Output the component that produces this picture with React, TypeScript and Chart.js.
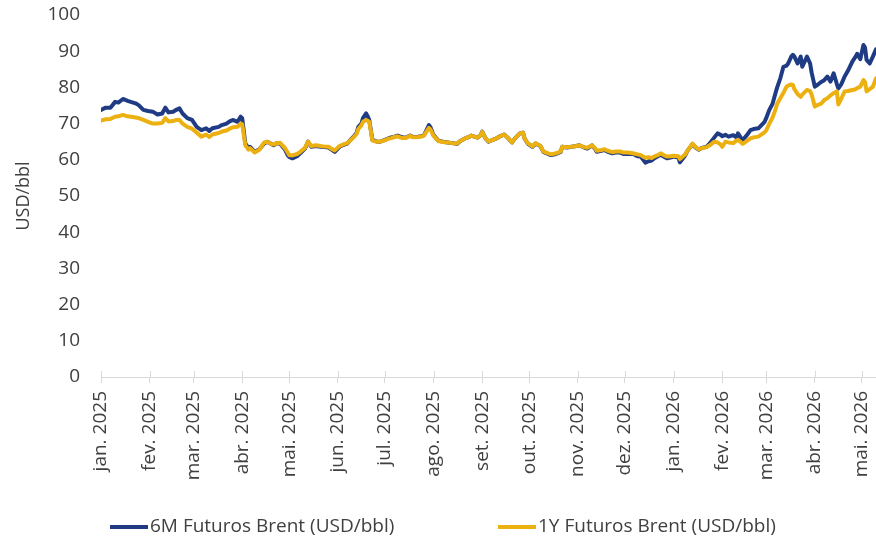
import React, { useEffect, useRef } from "react";
import { Chart, registerables } from "chart.js";

Chart.register(...registerables);

const monthLabels = [
  "jan. 2025", "fev. 2025", "mar. 2025", "abr. 2025", "mai. 2025", "jun. 2025",
  "jul. 2025", "ago. 2025", "set. 2025", "out. 2025", "nov. 2025", "dez. 2025",
  "jan. 2026", "fev. 2026", "mar. 2026", "abr. 2026", "mai. 2026",
];

const seriesNames = ["6M Futuros Brent (USD/bbl)", "1Y Futuros Brent (USD/bbl)"];

// days since 1 Jan 2025
const dayOffsets = [
  0, 3, 6, 9, 11, 14, 17, 19, 22, 24, 27, 30, 33, 36, 39, 41, 43, 46, 48, 50,
  52, 55, 58, 61, 64, 67, 69, 71, 75, 77, 80, 82, 84, 87, 89, 90, 92, 94, 95, 98,
  101, 104, 106, 108, 110, 112, 114, 117, 119, 120, 122, 125, 127, 130, 132, 134, 137, 140, 142, 145,
  147, 149, 152, 155, 157, 159, 161, 163, 164, 166, 167, 169, 170, 171, 173, 176, 178, 181, 183, 185,
  187, 189, 192, 194, 197, 199, 202, 205, 206, 209, 210, 212, 215, 218, 221, 224, 227, 229, 232, 235,
  236, 240, 242, 243, 245, 247, 249, 251, 254, 257, 259, 262, 264, 267, 269, 270, 272, 275, 277, 280,
  282, 285, 287, 290, 293, 294, 297, 300, 303, 305, 308, 310, 313, 315, 316, 319, 321, 323, 326, 328,
  331, 333, 336, 339, 342, 344, 346, 347, 349, 351, 353, 355, 357, 359, 361, 363, 365, 368, 369, 372,
  374, 377, 379, 381, 383, 386, 388, 391, 393, 395, 396, 398, 400, 403, 405, 406, 408, 409, 412, 414,
  416, 419, 421, 423, 424, 426, 428, 430, 431, 433, 435, 437, 438, 440, 441, 442, 444, 446, 447, 450,
  452, 453, 455, 457, 459, 461, 463, 465, 467, 469, 470, 472, 474, 476, 479, 481, 482, 484, 486, 487,
  488, 490, 492, 494,
];

const brent6M = [
  73.8, 74.4, 74.4, 76.0, 75.8, 76.8, 76.3, 76.0, 75.6, 75.1, 73.8, 73.5, 73.3, 72.5, 72.8, 74.4, 73.1, 73.3, 73.8, 74.2,
  72.8, 71.5, 71.0, 69.1, 68.2, 68.7, 68.0, 68.7, 69.1, 69.6, 70.0, 70.6, 71.0, 70.5, 71.9, 71.5, 64.5, 63.2, 63.6, 62.2,
  62.9, 64.5, 65.0, 64.5, 64.0, 64.6, 64.5, 63.0, 61.3, 60.8, 60.4, 61.0, 61.8, 63.1, 65.0, 63.6, 63.8, 63.6, 63.5, 63.4,
  62.8, 62.2, 63.6, 64.2, 64.5, 65.5, 66.4, 67.5, 69.1, 70.0, 71.5, 72.8, 72.0, 71.0, 65.5, 65.0, 65.0, 65.5, 65.9, 66.2,
  66.4, 66.7, 66.2, 66.1, 66.7, 66.3, 66.4, 66.6, 66.9, 69.6, 69.0, 66.8, 65.3, 65.0, 64.8, 64.6, 64.4, 65.2, 65.9, 66.4,
  66.7, 66.1, 66.8, 67.8, 66.0, 65.0, 65.4, 65.7, 66.4, 67.0, 66.2, 64.8, 66.0, 67.3, 67.5, 65.9, 64.5, 63.6, 64.5, 63.8,
  62.2, 61.6, 61.3, 61.6, 62.2, 63.6, 63.4, 63.6, 63.8, 64.0, 63.4, 63.1, 64.0, 63.0, 62.2, 62.5, 62.7, 62.2, 61.8, 62.0,
  62.0, 61.6, 61.6, 61.6, 61.0, 60.9, 59.8, 59.2, 59.6, 59.8, 60.5, 61.0, 61.4, 60.8, 60.4, 60.6, 60.9, 60.6, 59.3, 61.0,
  62.6, 64.3, 63.4, 62.8, 63.3, 63.6, 64.5, 66.2, 67.3, 66.9, 66.5, 66.9, 66.4, 66.8, 66.2, 67.3, 66.0, 65.4, 67.0, 68.2,
  68.5, 68.7, 69.6, 70.5, 71.5, 73.8, 75.4, 78.5, 80.0, 82.5, 85.7, 86.0, 86.6, 88.5, 89.0, 88.5, 86.6, 88.5, 85.7, 88.5,
  86.6, 84.0, 80.2, 80.8, 81.5, 82.0, 83.0, 81.6, 83.9, 81.0, 79.7, 81.0, 83.0, 84.5, 87.2, 88.5, 89.3, 87.8, 91.7, 91.0,
  87.6, 86.6, 88.5, 90.5,
];

const brent1Y = [
  70.8, 71.2, 71.3, 71.9, 72.0, 72.4, 72.0, 71.9, 71.7, 71.5, 71.0, 70.5, 70.0, 70.0, 70.2, 71.5, 70.6, 70.7, 71.0, 71.0,
  70.0, 69.1, 68.6, 67.5, 66.4, 67.0, 66.3, 67.0, 67.4, 67.8, 68.1, 68.6, 69.0, 69.1, 70.0, 69.8, 64.0, 62.8, 63.2, 62.0,
  62.8, 64.8, 65.0, 64.5, 64.2, 64.6, 64.7, 63.4, 62.0, 61.3, 61.2, 61.6, 62.2, 63.3, 65.0, 63.8, 64.0, 63.8, 63.7, 63.6,
  63.0, 62.6, 63.8, 64.3, 64.6, 65.4, 66.2, 67.2, 68.5, 69.5, 70.5, 71.0, 70.8, 70.5, 65.3, 65.0, 65.0, 65.4, 65.8, 66.0,
  66.3, 66.5, 66.0, 66.0, 66.6, 66.2, 66.3, 66.5, 66.8, 68.8, 68.4, 66.6, 65.2, 64.9, 64.8, 64.6, 64.5, 65.2, 65.9, 66.4,
  66.7, 66.1, 66.8, 67.7, 66.0, 65.1, 65.4, 65.7, 66.4, 67.0, 66.2, 64.8, 66.0, 67.3, 67.5, 65.9, 64.6, 63.7, 64.6, 63.9,
  62.3, 61.8, 61.5, 61.8, 62.3, 63.6, 63.5, 63.6, 63.8, 64.0, 63.5, 63.3, 64.0, 63.2, 62.5, 62.7, 62.9, 62.5, 62.1, 62.3,
  62.3, 62.0, 62.0, 61.8, 61.5, 61.3, 60.8, 60.6, 60.7, 60.5, 61.0, 61.3, 61.8, 61.2, 60.9, 61.0, 61.1, 61.0, 60.2, 61.3,
  62.6, 64.5, 63.5, 62.9, 63.2, 63.5, 64.0, 65.0, 64.8, 64.2, 63.6, 65.0, 64.8, 64.6, 65.3, 65.5, 64.8, 64.4, 65.3, 65.9,
  66.2, 66.4, 67.0, 67.6, 68.1, 70.0, 71.6, 74.0, 75.5, 77.0, 78.5, 80.2, 80.5, 80.8, 80.7, 79.5, 78.2, 77.4, 78.0, 79.3,
  79.0, 78.0, 74.7, 75.2, 75.5, 76.5, 77.0, 77.8, 78.4, 78.9, 75.3, 77.0, 78.9, 79.0, 79.3, 79.5, 79.8, 80.2, 82.0, 81.5,
  78.9, 79.5, 80.2, 82.5,
];

const Y_MIN = 0;
const Y_MAX = 100;
const Y_STEP = 10;
const X_MAX_DAY = 494;

const BLUE = "#1F3B84";
const YELLOW = "#ECB111";
const TEXT = "#404040";
const AXIS = "#D9D9D9";
const FONT = "'Open Sans', sans-serif";

const DAY_MS = 86400000;
const BASE = Date.UTC(2025, 0, 1);
const monthOffsets = monthLabels.map((_, i) =>
  Math.round((Date.UTC(2025, i, 1) - BASE) / DAY_MS)
);

const upTicksPlugin = {
  id: "upTicks",
  afterDatasetsDraw(chart: any) {
    const { ctx, chartArea, scales } = chart;
    const xs = scales.x;
    ctx.save();
    ctx.strokeStyle = AXIS;
    ctx.lineWidth = 1;
    ctx.beginPath();
    monthOffsets.forEach((d) => {
      const px = Math.round(xs.getPixelForValue(d)) + 0.5;
      ctx.moveTo(px, chartArea.bottom - 6);
      ctx.lineTo(px, chartArea.bottom);
    });
    ctx.stroke();
    ctx.restore();
  },
};

const legendPlugin = {
  id: "customLegend",
  afterDraw(chart: any) {
    const { ctx } = chart;
    const items = [
      { x: 110, color: BLUE, text: seriesNames[0] },
      { x: 498, color: YELLOW, text: seriesNames[1] },
    ];
    const y = 527;
    ctx.save();
    items.forEach((it) => {
      ctx.strokeStyle = it.color;
      ctx.lineWidth = 4;
      ctx.beginPath();
      ctx.moveTo(it.x, y);
      ctx.lineTo(it.x + 38, y);
      ctx.stroke();
      ctx.fillStyle = TEXT;
      ctx.font = `19px ${FONT}`;
      ctx.textAlign = "left";
      ctx.textBaseline = "middle";
      ctx.fillText(it.text, it.x + 40, y);
    });
    ctx.restore();
  },
};

export default function App() {
  const canvasRef = useRef<HTMLCanvasElement | null>(null);

  useEffect(() => {
    const canvas = canvasRef.current;
    if (!canvas) return;
    const chart = new Chart(canvas, {
      type: "line",
      data: {
        datasets: [
          {
            label: seriesNames[0],
            data: dayOffsets.map((d, i) => ({ x: d, y: brent6M[i] })),
            borderColor: BLUE,
            backgroundColor: BLUE,
            borderWidth: 4,
            pointRadius: 0,
            tension: 0,
            borderJoinStyle: "round",
            borderCapStyle: "round",
            order: 1,
          },
          {
            label: seriesNames[1],
            data: dayOffsets.map((d, i) => ({ x: d, y: brent1Y[i] })),
            borderColor: YELLOW,
            backgroundColor: YELLOW,
            borderWidth: 4,
            pointRadius: 0,
            tension: 0,
            borderJoinStyle: "round",
            borderCapStyle: "round",
            order: 0,
          },
        ],
      },
      options: {
        animation: false,
        responsive: false,
        maintainAspectRatio: false,
        layout: { padding: { top: 15, right: 0, bottom: 0, left: 0 } },
        plugins: {
          legend: { display: false },
          tooltip: { enabled: false },
        },
        scales: {
          x: {
            type: "linear",
            min: 0,
            max: X_MAX_DAY,
            afterBuildTicks: (s: any) => {
              s.ticks = monthOffsets.map((v) => ({ value: v }));
            },
            ticks: {
              autoSkip: false,
              maxRotation: 90,
              minRotation: 90,
              padding: 8,
              color: TEXT,
              font: { family: FONT, size: 19 },
              callback: (_v: any, i: number) => monthLabels[i],
            },
            grid: {
              display: true,
              drawOnChartArea: false,
              drawTicks: true,
              tickLength: 6,
              color: AXIS,
              lineWidth: 1,
            },
            border: { display: true, color: AXIS, width: 1 },
            afterFit: (s: any) => {
              s.height = 166;
              s.paddingLeft = 0;
              s.paddingRight = 0;
            },
          },
          y: {
            min: Y_MIN,
            max: Y_MAX,
            ticks: {
              stepSize: Y_STEP,
              padding: 21,
              color: TEXT,
              font: { family: FONT, size: 19 },
            },
            grid: { display: false, drawTicks: false },
            border: { display: false },
            title: {
              display: true,
              text: "USD/bbl",
              color: TEXT,
              font: { family: FONT, size: 18 },
              padding: { top: 13, bottom: 0 },
            },
            afterFit: (s: any) => {
              s.width = 101;
              s.paddingTop = 0;
              s.paddingBottom = 0;
            },
          },
        },
      },
      plugins: [upTicksPlugin, legendPlugin],
    });
    return () => chart.destroy();
  }, []);

  return (
    <div style={{ position: "absolute", left: 0, top: 0, width: 876, height: 543, background: "#fff" }}>
      <canvas ref={canvasRef} width={876} height={543} style={{ display: "block" }} />
    </div>
  );
}
